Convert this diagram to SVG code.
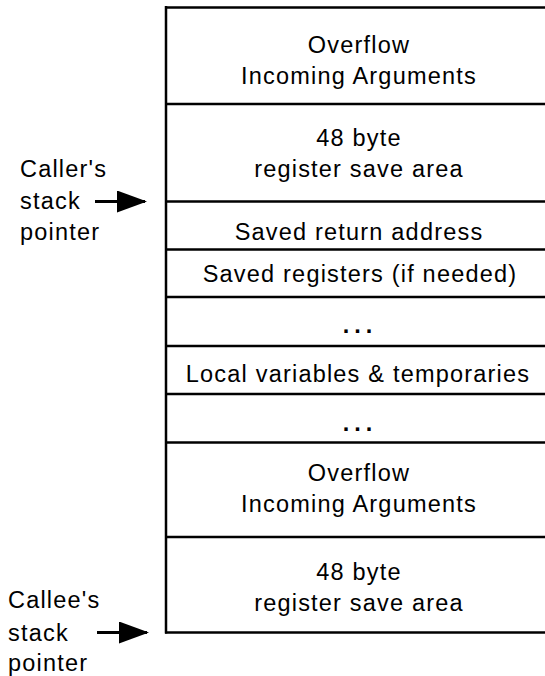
<svg xmlns="http://www.w3.org/2000/svg" width="545" height="676" viewBox="0 0 545 676">
<style>
.t{font-family:"Liberation Sans",Arial,Helvetica,sans-serif;font-size:23.5px;letter-spacing:1.2px;fill:#000}
.c{text-anchor:middle}
.dots{font-weight:bold;letter-spacing:5px}
.ln{stroke:#000;stroke-width:2.5;fill:none}
.ar{stroke:#000;stroke-width:3;fill:none}
</style>
<defs>
<marker id="ah" markerWidth="30" markerHeight="22" refX="28" refY="11" markerUnits="userSpaceOnUse" orient="auto">
<path d="M0,0 L30,11 L0,22 Z" fill="#000"/>
</marker>
</defs>
<rect width="545" height="676" fill="#fff"/>
<g id="frame">
<line class="ln" x1="166" y1="6" x2="166" y2="633.5"/>
<line class="ln" x1="165" y1="7.5" x2="545" y2="7.5"/>
<line class="ln" x1="165" y1="104" x2="545" y2="104"/>
<line class="ln" x1="165" y1="201.5" x2="545" y2="201.5"/>
<line class="ln" x1="165" y1="249.5" x2="545" y2="249.5"/>
<line class="ln" x1="165" y1="297" x2="545" y2="297"/>
<line class="ln" x1="165" y1="346" x2="545" y2="346"/>
<line class="ln" x1="165" y1="394" x2="545" y2="394"/>
<line class="ln" x1="165" y1="442.5" x2="545" y2="442.5"/>
<line class="ln" x1="165" y1="537" x2="545" y2="537"/>
<line class="ln" x1="165" y1="632.5" x2="545" y2="632.5"/>
</g>
<g id="overflow-caller">
<text class="t c" x="359" y="53">Overflow</text>
<text class="t c" x="359" y="84">Incoming Arguments</text>
</g>
<g id="save-area-caller">
<text class="t c" x="359" y="146">48 byte</text>
<text class="t c" x="359" y="177">register save area</text>
</g>
<g id="return-address">
<text class="t c" x="359" y="240">Saved return address</text>
</g>
<g id="saved-registers">
<text class="t c" x="360" y="282">Saved  registers (if needed)</text>
</g>
<g id="ellipsis-1">
<text class="t c dots" x="360" y="333">...</text>
</g>
<g id="locals">
<text class="t c" x="358" y="382">Local variables &amp; temporaries</text>
</g>
<g id="ellipsis-2">
<text class="t c dots" x="360" y="431">...</text>
</g>
<g id="overflow-callee">
<text class="t c" x="359" y="481">Overflow</text>
<text class="t c" x="359" y="512">Incoming Arguments</text>
</g>
<g id="save-area-callee">
<text class="t c" x="359" y="580">48 byte</text>
<text class="t c" x="359" y="611">register save area</text>
</g>
<g id="caller-label">
<text class="t" x="20" y="177">Caller's</text>
<text class="t" x="20" y="209">stack</text>
<text class="t" x="20" y="240">pointer</text>
</g>
<g id="callee-label">
<text class="t" x="8" y="608">Callee's</text>
<text class="t" x="8" y="641">stack</text>
<text class="t" x="8" y="671">pointer</text>
</g>
<g id="connectors">
<line class="ar" x1="95" y1="201.5" x2="145" y2="201.5" marker-end="url(#ah)"/>
<line class="ar" x1="97" y1="632.5" x2="147" y2="632.5" marker-end="url(#ah)"/>
</g>
</svg>
